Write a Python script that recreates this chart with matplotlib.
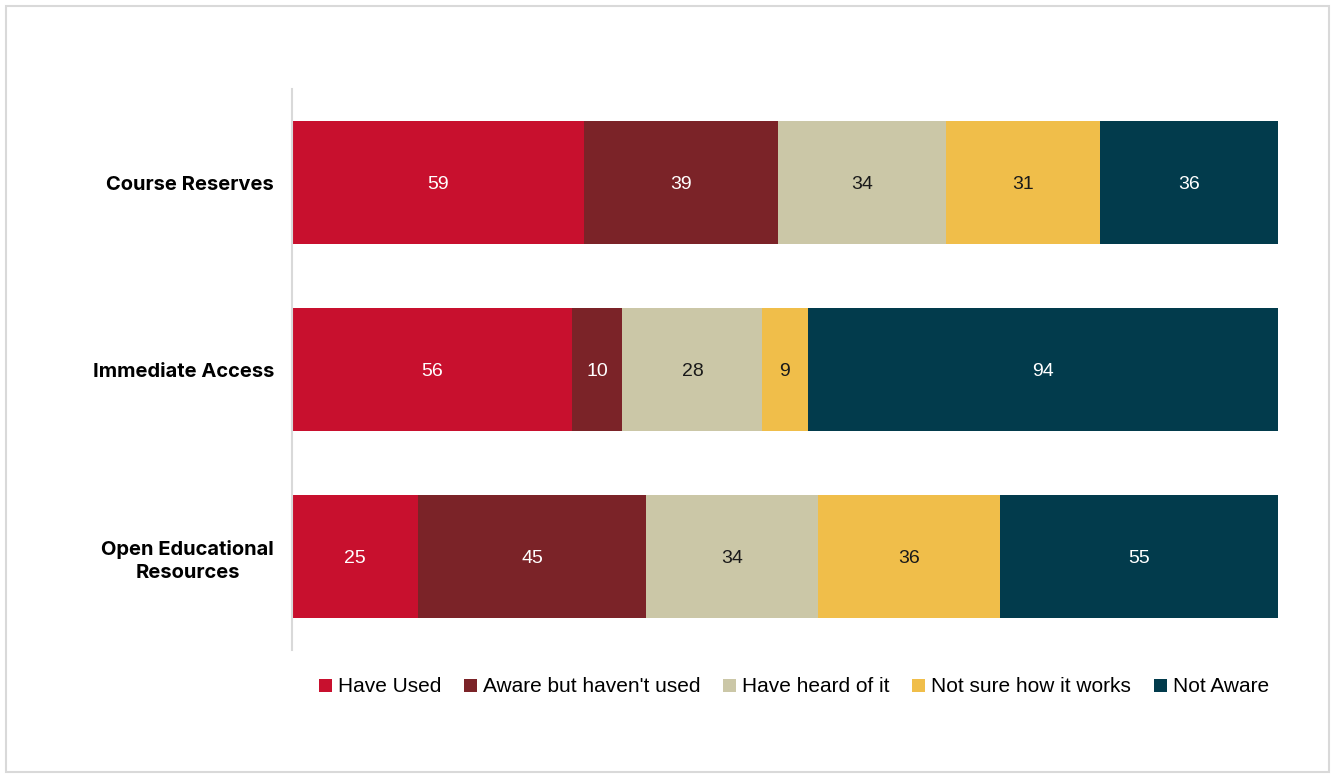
import matplotlib
matplotlib.use("Agg")
import matplotlib.pyplot as plt
from matplotlib.patches import Rectangle, Patch
import numpy as np

categories = ["Course Reserves", "Immediate Access", "Open Educational\nResources"]
series_names = ["Have Used", "Aware but haven't used", "Have heard of it",
                "Not sure how it works", "Not Aware"]
have_used = [59, 56, 25]
aware_not_used = [39, 10, 45]
heard_of_it = [34, 28, 34]
not_sure = [31, 9, 36]
not_aware = [36, 94, 55]

colors = ["#C8102E", "#7B2328", "#CBC7A7", "#F0BE4A", "#023B4C"]
text_colors = ["white", "white", "#1a1a1a", "#1a1a1a", "white"]

series = [have_used, aware_not_used, heard_of_it, not_sure, not_aware]
data = np.array(series, dtype=float)
totals = data.sum(axis=0)
shares = data / totals

fig = plt.figure(figsize=(13.32, 7.75), dpi=100)
fig.patches.append(Rectangle((6/1332, 3/775), 1323/1332, 766/775, transform=fig.transFigure,
                             fill=False, edgecolor="#d9d9d9", linewidth=1.5))

ax = fig.add_axes([292/1332, 1-650/775, 986/1332, 561/775])
y = np.arange(len(categories))
left = np.zeros(len(categories))
for i, name in enumerate(series_names):
    ax.barh(y, shares[i], left=left, height=0.663, color=colors[i], label=name)
    for j in range(len(categories)):
        ax.text(left[j] + shares[i][j] / 2, y[j], f"{int(data[i][j])}", ha="center",
                va="center_baseline", color=text_colors[i], fontsize=14,
                family="Liberation Sans")
    left += shares[i]

ax.set_xlim(0, 1)
ax.set_ylim(2.5, -0.5)
ax.set_yticks(y)
ax.set_yticklabels(categories, fontsize=14.5, fontweight="bold", family="Inter",
                   linespacing=1.35, multialignment="center")
ax.tick_params(axis="y", length=0, pad=13)
ax.xaxis.set_visible(False)
for s in ["top", "right", "bottom"]:
    ax.spines[s].set_visible(False)
ax.spines["left"].set_color("#d9d9d9")
ax.spines["left"].set_linewidth(1.5)

handles = [Patch(facecolor=c, edgecolor="none") for c in colors]
fig.legend(handles, series_names, loc="center", bbox_to_anchor=(794/1332, 1-687/775),
           ncol=5, frameon=False, handlelength=0.6, handleheight=0.6, handletextpad=0.3,
           columnspacing=1.1, prop={"family": "Liberation Sans", "size": 15})

fig.savefig("out.png", dpi=100)
